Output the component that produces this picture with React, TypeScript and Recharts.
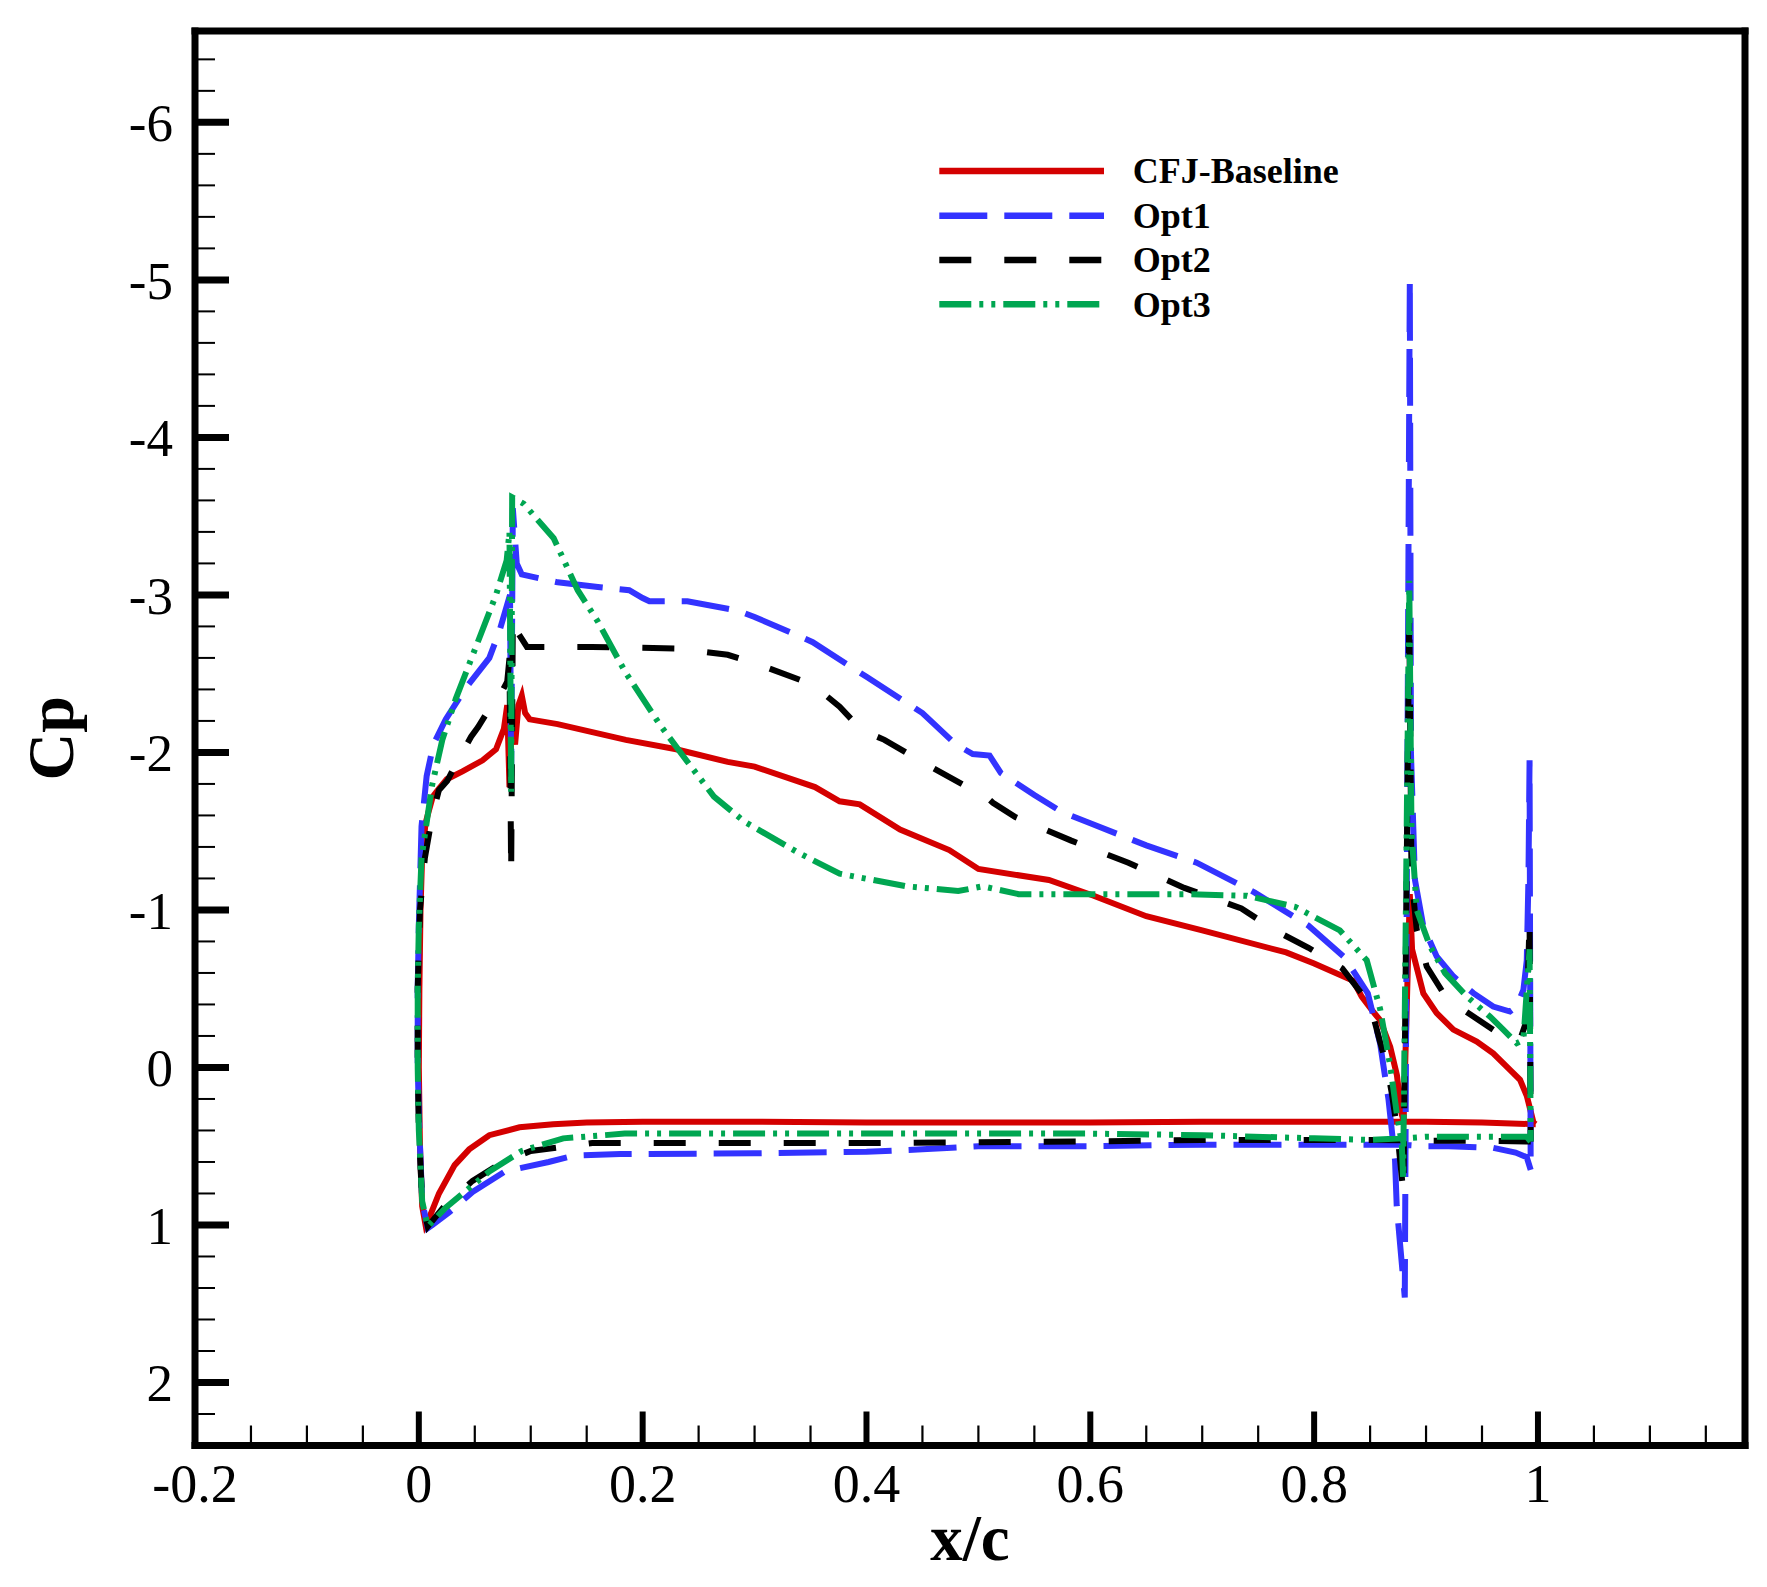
import React from 'react';
import { LineChart, Line, XAxis, YAxis, Legend } from 'recharts';

// ---------- data (x/c, Cp) ----------
const cfjBaseline: [number, number][] = [
  [0.998, 0.36], [0.95, 0.35], [0.9, 0.345], [0.85, 0.345], [0.8, 0.345], [0.7, 0.345], [0.6, 0.35],
  [0.5, 0.35], [0.4, 0.35], [0.3, 0.345], [0.2, 0.345], [0.15, 0.35], [0.12, 0.36], [0.09, 0.38],
  [0.063, 0.43], [0.045, 0.52], [0.032, 0.62], [0.018, 0.8], [0.009, 0.96], [0.006, 1.0], [0.003, 0.88],
  [0.001, 0.5], [0.0, 0.0], [0.0005, -0.5], [0.0015, -1.0], [0.003, -1.35], [0.006, -1.55],
  [0.0086, -1.62], [0.0125, -1.72], [0.018, -1.77], [0.025, -1.83], [0.039, -1.88], [0.057, -1.95],
  [0.069, -2.02], [0.076, -2.15], [0.079, -2.3], [0.081, -1.78], [0.083, -2.2], [0.086, -2.05],
  [0.089, -2.3], [0.092, -2.36], [0.095, -2.25], [0.099, -2.21], [0.124, -2.18], [0.154, -2.13],
  [0.185, -2.08], [0.23, -2.02], [0.276, -1.94], [0.3, -1.91], [0.354, -1.78], [0.376, -1.69],
  [0.394, -1.67], [0.43, -1.51], [0.474, -1.38], [0.5, -1.26], [0.563, -1.19], [0.603, -1.09],
  [0.65, -0.96], [0.7, -0.87], [0.775, -0.73], [0.8, -0.66], [0.835, -0.55], [0.8425, -0.45],
  [0.852, -0.36], [0.859, -0.3], [0.868, -0.13], [0.874, 0.05], [0.878, 0.29], [0.88, 0.34],
  [0.8855, -1.1], [0.8875, -0.75], [0.8976, -0.47], [0.9095, -0.345], [0.9244, -0.24],
  [0.9453, -0.165], [0.96, -0.09], [0.975, 0.015], [0.984, 0.078], [0.99, 0.18], [0.996, 0.35],
  [0.998, 0.36],
];

const opt1: [number, number][] = [
  [0.9935, 0.65], [0.99, 0.57], [0.98, 0.54], [0.96, 0.51], [0.92, 0.5], [0.9, 0.5], [0.88, 0.49],
  [0.85, 0.49], [0.8, 0.49], [0.7, 0.49], [0.6, 0.5], [0.5, 0.5], [0.45, 0.52], [0.4, 0.535],
  [0.3, 0.545], [0.18, 0.55], [0.138, 0.56], [0.116, 0.6], [0.077, 0.66], [0.048, 0.79],
  [0.027, 0.92], [0.012, 1.0], [0.008, 1.02], [0.003, 0.85], [0.0005, 0.4], [-0.001, 0.0],
  [-0.001, -0.5], [0.0, -0.9], [0.0024, -1.53], [0.007, -1.85], [0.013, -2.05], [0.024, -2.21],
  [0.042, -2.41], [0.063, -2.6], [0.072, -2.77], [0.0815, -3.0], [0.0825, -1.85], [0.084, -3.55],
  [0.0875, -3.2], [0.092, -3.13], [0.124, -3.08], [0.16, -3.05], [0.188, -3.03], [0.2, -2.98],
  [0.206, -2.96], [0.24, -2.96], [0.285, -2.9], [0.3, -2.86], [0.352, -2.7], [0.4, -2.48],
  [0.45, -2.25], [0.48, -2.05], [0.495, -1.99], [0.51, -1.98], [0.52, -1.87], [0.55, -1.73],
  [0.575, -1.62], [0.6, -1.55], [0.65, -1.41], [0.695, -1.3], [0.747, -1.11], [0.795, -0.9],
  [0.827, -0.7], [0.848, -0.47], [0.859, -0.15], [0.8664, 0.2], [0.8723, 0.59], [0.8738, 0.88],
  [0.881, 1.46], [0.8855, -5.0], [0.8865, -2.0], [0.8901, -1.19], [0.8976, -0.895],
  [0.9095, -0.705], [0.9244, -0.578], [0.9423, -0.472], [0.96, -0.387], [0.975, -0.355],
  [0.981, -0.387], [0.987, -0.493], [0.99, -0.68], [0.9915, -1.2], [0.9925, -1.95], [0.9935, 0.65],
];

const opt2: [number, number][] = [
  [0.9935, 0.47], [0.99, 0.47], [0.95, 0.465], [0.9, 0.465], [0.85, 0.46], [0.8, 0.46], [0.7, 0.46],
  [0.6, 0.47], [0.5, 0.475], [0.4, 0.48], [0.3, 0.48], [0.2, 0.48], [0.155, 0.48], [0.1, 0.53],
  [0.075, 0.6], [0.048, 0.72], [0.024, 0.87], [0.008, 1.01], [0.003, 0.85], [0.0, 0.4],
  [-0.001, 0.0], [-0.001, -0.5], [0.001, -1.0], [0.0054, -1.33], [0.0118, -1.59], [0.0179, -1.76],
  [0.0254, -1.82], [0.035, -1.95], [0.0467, -2.1], [0.0528, -2.16], [0.065, -2.3], [0.0745, -2.39],
  [0.079, -2.45], [0.081, -2.6], [0.0825, -1.23], [0.084, -2.85], [0.0876, -2.77], [0.0966, -2.67],
  [0.1545, -2.67], [0.2305, -2.66], [0.276, -2.62], [0.303, -2.56], [0.352, -2.43], [0.376, -2.29],
  [0.396, -2.14], [0.416, -2.08], [0.452, -1.93], [0.4954, -1.76], [0.502, -1.75], [0.513, -1.68],
  [0.533, -1.59], [0.583, -1.44], [0.634, -1.3], [0.684, -1.14], [0.735, -1.01], [0.765, -0.87],
  [0.795, -0.76], [0.825, -0.63], [0.85, -0.4], [0.859, -0.16], [0.865, -0.01], [0.8693, 0.16],
  [0.8738, 0.375], [0.8798, 0.8], [0.885, -2.88], [0.887, -1.2], [0.8917, -0.874], [0.9006, -0.641],
  [0.9155, -0.472], [0.9334, -0.366], [0.96, -0.239], [0.984, -0.175], [0.99, -0.3], [0.9925, -0.94],
  [0.9935, 0.47],
];

const opt3: [number, number][] = [
  [0.9935, 0.47], [0.99, 0.44], [0.95, 0.44], [0.9, 0.44], [0.88, 0.45], [0.85, 0.46], [0.8, 0.45],
  [0.7, 0.43], [0.6, 0.42], [0.5, 0.42], [0.4, 0.42], [0.3, 0.42], [0.184, 0.42], [0.129, 0.45],
  [0.092, 0.53], [0.063, 0.66], [0.024, 0.89], [0.008, 1.01], [0.003, 0.85], [0.0, 0.4],
  [-0.001, 0.0], [-0.001, -0.5], [0.0, -0.9], [0.0024, -1.33], [0.0118, -1.79], [0.021, -2.08],
  [0.033, -2.34], [0.051, -2.67], [0.069, -3.0], [0.0785, -3.22], [0.081, -3.4], [0.0825, -1.75],
  [0.0834, -3.62], [0.0935, -3.58], [0.1205, -3.36], [0.142, -3.03], [0.16, -2.83], [0.1845, -2.51],
  [0.215, -2.18], [0.239, -1.95], [0.2637, -1.72], [0.291, -1.56], [0.34, -1.36], [0.376, -1.23],
  [0.436, -1.15], [0.482, -1.12], [0.504, -1.15], [0.536, -1.1], [0.583, -1.1], [0.634, -1.1],
  [0.684, -1.1], [0.74, -1.09], [0.783, -1.02], [0.823, -0.87], [0.847, -0.68], [0.859, -0.37],
  [0.868, -0.01], [0.8738, 0.29], [0.8783, 0.48], [0.8795, 0.7], [0.885, -3.09], [0.887, -1.5],
  [0.8917, -1.0], [0.9036, -0.768], [0.917, -0.599], [0.9364, -0.451], [0.957, -0.324],
  [0.9692, -0.239], [0.981, -0.154], [0.987, -0.175], [0.9925, -0.75], [0.9935, 0.47],
];

const seriesNames = ['CFJ-Baseline', 'Opt1', 'Opt2', 'Opt3'];
const seriesValues = [cfjBaseline, opt1, opt2, opt3];

// ---------- axes ----------
const xDomain: [number, number] = [-0.2, 1.185];
const yDomain: [number, number] = [-6.58, 2.4];
const xMajorLabels = [-0.2, 0, 0.2, 0.4, 0.6, 0.8, 1];
const yMajorLabels = [-6, -5, -4, -3, -2, -1, 0, 1, 2];
const xTicks = Array.from({ length: 28 }, (_, i) => Math.round((-0.2 + i * 0.05) * 1000) / 1000);
const yTicks = Array.from({ length: 44 }, (_, i) => Math.round((-6.4 + i * 0.2) * 1000) / 1000);

// ---------- styles ----------
const FONT = '"Liberation Serif", "Times New Roman", Times, serif';
const W = 1767;
const H = 1587;
const PLOT_LEFT = 195;
const PLOT_RIGHT = 1745;
const PLOT_TOP = 31;
const PLOT_BOTTOM = 1445.5;

const styles = [
  { color: '#d40000', dash: undefined as string | undefined },
  { color: '#3333ff', dash: '48 17' },
  { color: '#000000', dash: '32 33' },
  { color: '#00a651', dash: '32 8 4 8 4 8' },
];

const isMajor = (v: number, list: number[]) => list.some((m) => Math.abs(m - v) < 1e-6);
const fmt = (v: number) => String(Math.round(v * 100) / 100);

function XTick(props: any) {
  const { x, y, payload } = props;
  const v = payload.value as number;
  const major = isMajor(v, xMajorLabels);
  return (
    <g>
      {v > -0.199 && (
        <line x1={x} x2={x} y1={y} y2={y - (major ? 34 : 20)} stroke="#000" strokeWidth={major ? 6 : 2.2} />
      )}
      {major && (
        <text x={x} y={y + 56} textAnchor="middle" fontFamily={FONT} fontSize={54} fill="#000">
          {fmt(v)}
        </text>
      )}
    </g>
  );
}

function YTick(props: any) {
  const { x, y, payload } = props;
  const v = payload.value as number;
  const major = isMajor(v, yMajorLabels);
  return (
    <g>
      <line x1={x} x2={x + (major ? 34 : 20)} y1={y} y2={y} stroke="#000" strokeWidth={major ? 7 : 2} />
      {major && (
        <text x={x - 22} y={y + 19} textAnchor="end" fontFamily={FONT} fontSize={53} fill="#000">
          {fmt(v)}
        </text>
      )}
    </g>
  );
}

function XTitle() {
  return (
    <text x={(PLOT_LEFT + PLOT_RIGHT) / 2} y={1560} textAnchor="middle" fontFamily={FONT} fontWeight="bold" fontSize={65} fill="#000">
      x/c
    </text>
  );
}

function YTitle() {
  const cy = (PLOT_TOP + PLOT_BOTTOM) / 2;
  return (
    <text x={73} y={cy} transform={`rotate(-90 73 ${cy})`} textAnchor="middle" fontFamily={FONT} fontWeight="bold" fontSize={66} fill="#000">
      Cp
    </text>
  );
}

function LegendBox() {
  const rows = [26, 70.7, 115, 159.3];
  return (
    <svg width={440} height={190} style={{ display: 'block' }}>
      {seriesNames.map((name, i) => (
        <g key={name}>
          <line x1={4.3} x2={169} y1={rows[i]} y2={rows[i]} stroke={styles[i].color} strokeWidth={6.5} strokeDasharray={styles[i].dash} />
          <text x={197.7} y={rows[i] + 12.3} fontFamily={FONT} fontWeight="bold" fontSize={36} fill="#000">
            {name}
          </text>
        </g>
      ))}
    </svg>
  );
}

const frameLine = { stroke: '#000', strokeWidth: 7, strokeLinecap: 'square' as const };

export default function App() {
  const tables = seriesValues.map((s) => s.map(([x, cp]) => ({ x, cp })));
  return (
    <div style={{ position: 'absolute', left: 0, top: 0, width: W, height: H, background: '#fff' }}>
      <LineChart width={W} height={H} margin={{ top: PLOT_TOP - 1, right: W - PLOT_RIGHT - 1, bottom: 0, left: 0 }}>
        <XAxis
          xAxisId="b"
          dataKey="x"
          type="number"
          domain={xDomain}
          ticks={xTicks}
          interval={0}
          tickSize={0}
          tickMargin={0}
          tickLine={false}
          tick={<XTick />}
          axisLine={frameLine}
          height={H - PLOT_BOTTOM}
          allowDataOverflow
          label={<XTitle />}
        />
        <XAxis xAxisId="t" dataKey="x" orientation="top" type="number" domain={xDomain} tick={false} tickLine={false} axisLine={frameLine} height={1} allowDataOverflow />
        <YAxis
          yAxisId="l"
          type="number"
          domain={yDomain}
          reversed
          ticks={yTicks}
          interval={0}
          tickSize={0}
          tickMargin={0}
          tickLine={false}
          tick={<YTick />}
          axisLine={frameLine}
          width={PLOT_LEFT}
          allowDataOverflow
          label={<YTitle />}
        />
        <YAxis yAxisId="r" orientation="right" type="number" domain={yDomain} reversed tick={false} tickLine={false} axisLine={frameLine} width={1} allowDataOverflow />
        {tables.map((data, i) => (
          <Line
            key={seriesNames[i]}
            name={seriesNames[i]}
            xAxisId="b"
            yAxisId="l"
            data={data}
            dataKey="cp"
            type="linear"
            stroke={styles[i].color}
            strokeWidth={6}
            strokeDasharray={styles[i].dash}
            dot={false}
            activeDot={false}
            isAnimationActive={false}
          />
        ))}
        <Line
          xAxisId="t"
          yAxisId="r"
          data={tables[0]}
          dataKey="cp"
          stroke="none"
          strokeWidth={0}
          dot={false}
          activeDot={false}
          legendType="none"
          isAnimationActive={false}
        />
        <Legend
          layout="vertical"
          align="center"
          verticalAlign="middle"
          content={<LegendBox />}
          wrapperStyle={{ position: 'absolute', left: 935, top: 145, width: 440, height: 190 }}
        />
      </LineChart>
    </div>
  );
}
